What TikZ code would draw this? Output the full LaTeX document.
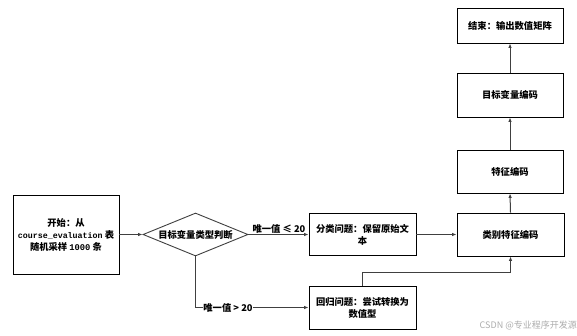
\documentclass[tikz,border=0pt]{standalone}
\usepackage{fontspec}
\setmainfont{Noto Sans CJK SC}
\newfontfamily\cjk{Noto Sans CJK SC}
\newfontfamily\monof{Liberation Mono}
\usetikzlibrary{shapes.geometric,arrows.meta}
\definecolor{linec}{HTML}{404040}
\tikzset{
  box/.style={draw=black,line width=0.9pt,rectangle,inner sep=1pt,align=center,font=\cjk\bfseries\fontsize{9.3}{12}\selectfont},
  conn/.style={draw=linec,line width=1pt,-{Latex[length=4.5pt,width=3.5pt]}},
  lbl/.style={font=\cjk\bfseries\fontsize{9.3}{10}\selectfont,inner sep=0.5pt}
}
\begin{document}
\begin{tikzpicture}[x=1pt,y=-1pt]
\useasboundingbox[fill=white] (0,0) rectangle (577,336);
\node[box,minimum width=106pt,minimum height=79pt] (start) at (66,234.5)
  {开始：从\\{\monof\bfseries\fontsize{8.3}{12}\selectfont course\_evaluation} 表\\随机采样 {\monof\bfseries\fontsize{8.8}{12}\selectfont 1000} 条};
\node[draw=linec,line width=0.9pt,diamond,aspect=2.45,minimum width=105pt,minimum height=43pt,inner sep=0pt,font=\cjk\bfseries\fontsize{9.3}{12}\selectfont] (dec) at (195.5,234.5) {目标变量类型判断};
\node[box,minimum width=107pt,minimum height=42pt] (cls) at (362.5,234.5) {分类问题：保留原始文\\本};
\node[box,minimum width=107pt,minimum height=43pt] (reg) at (362.5,307.5) {回归问题：尝试转换为\\数值型};
\node[box,minimum width=107pt,minimum height=43pt] (cat) at (510.5,234.5) {类别特征编码};
\node[box,minimum width=106pt,minimum height=43pt] (feat) at (510,171.5) {特征编码};
\node[box,minimum width=106pt,minimum height=44pt] (tgt) at (510,95) {目标变量编码};
\node[box,minimum width=106pt,minimum height=35pt] (end) at (510,25.5) {结束：输出数值矩阵};
\draw[conn] (start.east) -- (dec.west);
\draw[conn] (dec.east) -- (cls.west);
\node[lbl] (l1) at (279,228.5) {唯一值 ≤ 20};
\coordinate (c1) at (dec.south |- reg.west);
\draw[conn] (dec.south) -- (c1) -- (reg.west);
\node[lbl,fill=white] (l2) at (228,307.5) {唯一值 > 20};
\draw[conn] (cls.east) -- (cat.west);
\draw[conn] (reg.north) -- ++(0,-13) -| (cat.south);
\draw[conn] (cat.north) -- (feat.south);
\draw[conn] (feat.north) -- (tgt.south);
\draw[conn] (tgt.north) -- (end.south);
\node[font=\cjk\fontsize{9}{10}\selectfont,text=black!32,anchor=east,inner sep=0pt] (wm) at (577,325) {CSDN @专业程序开发源};
\end{tikzpicture}
\end{document}
